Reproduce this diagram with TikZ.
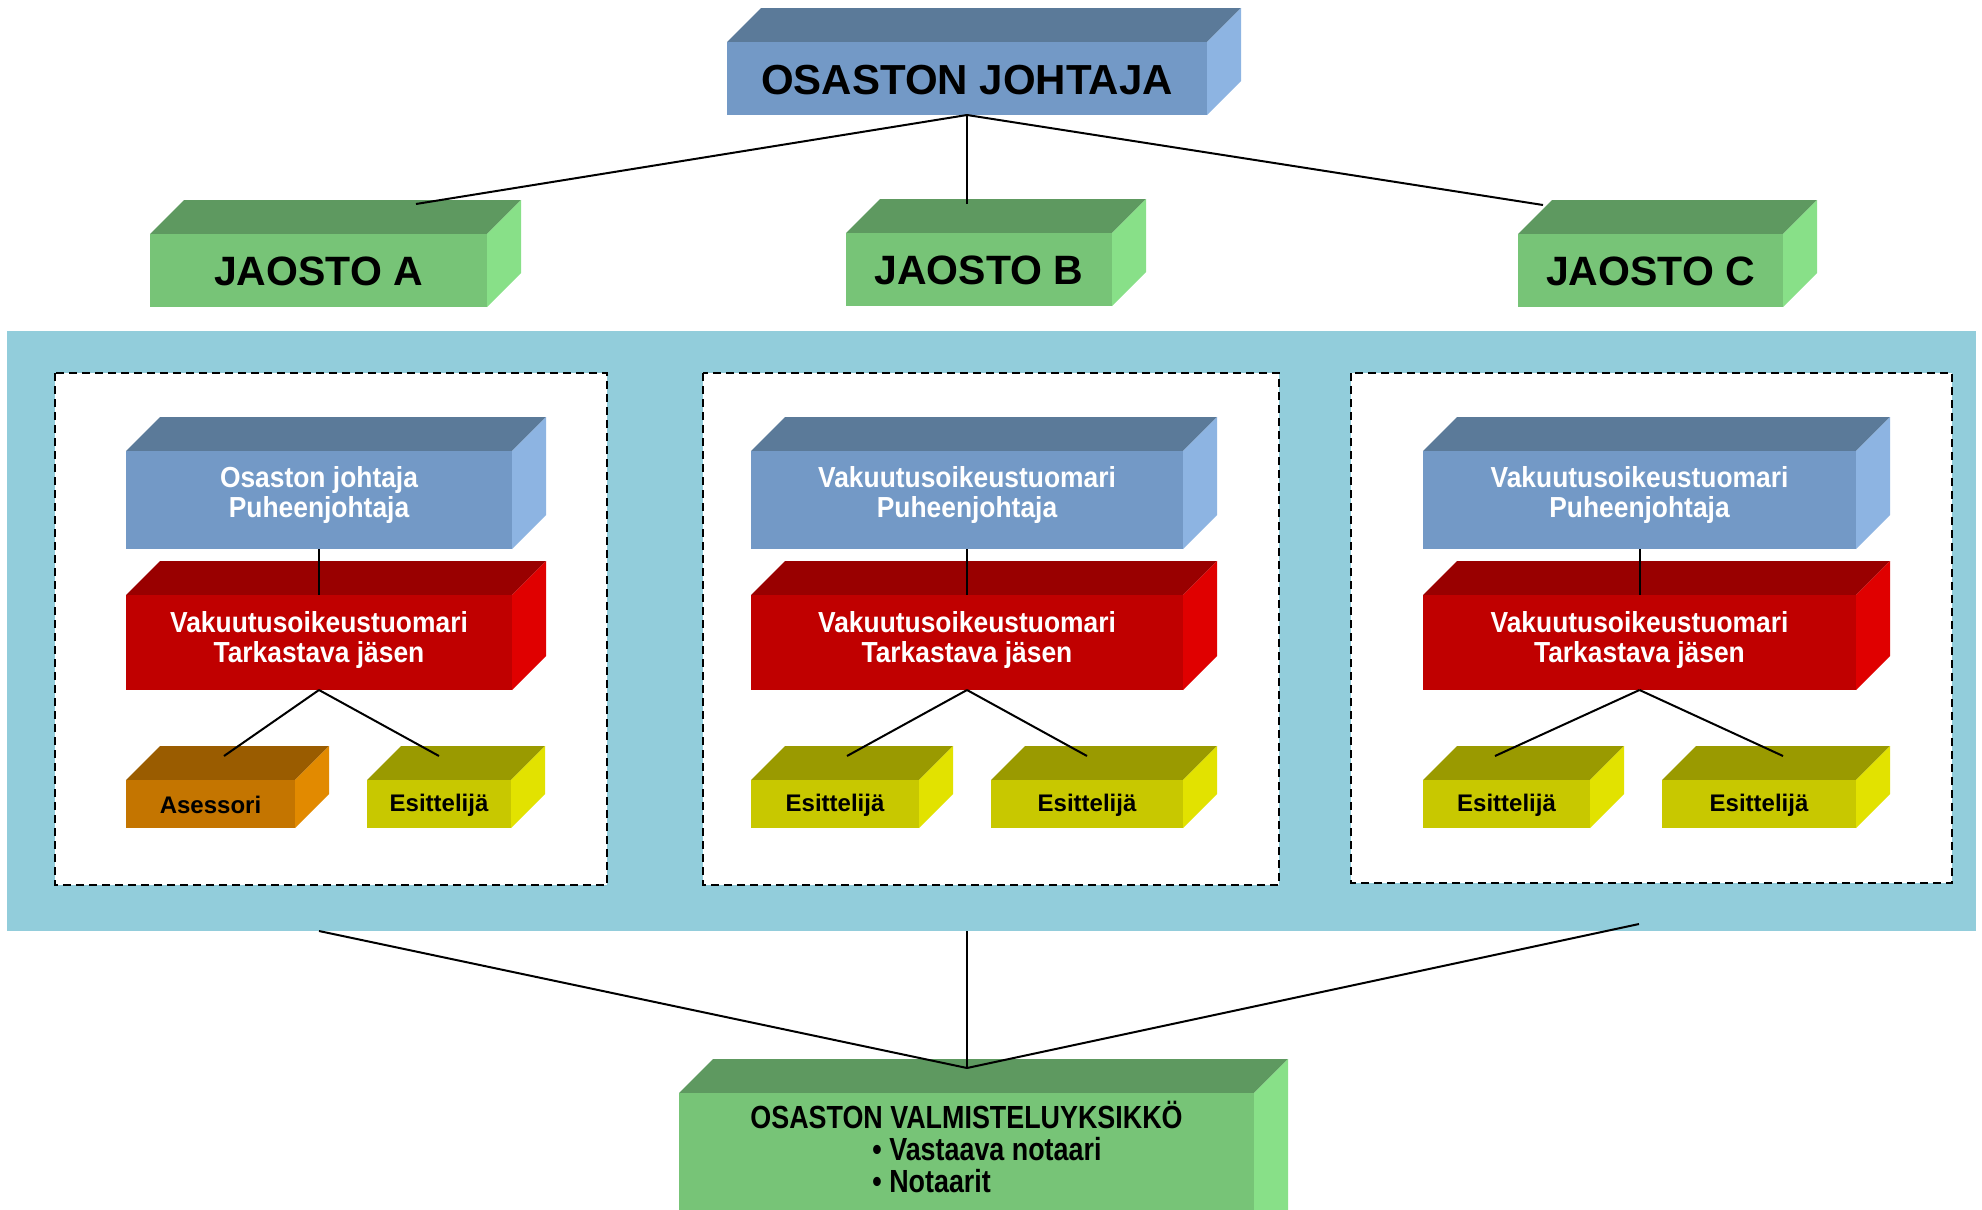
\documentclass[tikz,border=0pt]{standalone}
\usepackage{fontspec}
\setmainfont{Liberation Sans}
\newfontfamily\condA[FakeStretch=0.91]{Liberation Sans}
\newfontfamily\condB[FakeStretch=0.84]{Liberation Sans}
\definecolor{blufront}{HTML}{7399C6}
\definecolor{blutop}{HTML}{5B7A99}
\definecolor{bluside}{HTML}{8DB4E2}
\definecolor{grnfront}{HTML}{77C477}
\definecolor{grntop}{HTML}{5E9960}
\definecolor{grnside}{HTML}{88E088}
\definecolor{redfront}{HTML}{C00000}
\definecolor{redtop}{HTML}{990000}
\definecolor{redside}{HTML}{E00000}
\definecolor{orafront}{HTML}{C47500}
\definecolor{oratop}{HTML}{9A5C00}
\definecolor{oraside}{HTML}{E28A00}
\definecolor{yelfront}{HTML}{C8C800}
\definecolor{yeltop}{HTML}{9A9A00}
\definecolor{yelside}{HTML}{E2E200}
\definecolor{panelc}{HTML}{92CDDB}
\newcommand\cubo[9]{%
  \fill[#6top] (#2,#3) -- ({#2+34},{#3-34}) -- ({#4+34},{#3-34}) -- (#4,#3) -- cycle;
  \fill[#6side] (#4,#3) -- ({#4+34},{#3-34}) -- ({#4+34},{#5-34}) -- (#4,#5) -- cycle;
  \node[fill=#6front, inner sep=0pt, outer sep=0pt, minimum width={(#4-#2)*0.5pt}, minimum height={(#5-#3)*0.5pt}] (#1) at ({(#2+#4)/2},{(#3+#5)/2}) {};
  \node[#7] (#1-t) at ({(#2+#4)/2},{(#3+#5)/2+#9}) {#8};
}
\tikzset{
  bigtxt/.style={font=\bfseries\fontsize{21}{25}\selectfont},
  jaotxt/.style={font=\bfseries\fontsize{20.5}{24}\selectfont},
  midtxt/.style={font=\condA\bfseries\fontsize{14.5}{15}\selectfont, text=white, align=center, inner sep=0pt},
  smalltxt/.style={font=\bfseries\fontsize{12}{14}\selectfont, inner sep=0pt},
  valmtxt/.style={font=\condB\bfseries\fontsize{16}{16}\selectfont, align=left, inner sep=0pt},
  dashbox/.style={draw=black, fill=white, line width=1pt, dash pattern=on 4pt off 2.5pt},
  conn/.style={draw=black, line width=1pt}
}
\begin{document}
\begin{tikzpicture}[x=0.5pt, y=-0.5pt]
\useasboundingbox (0,0) rectangle (1982,1210);
\clip (0,0) rectangle (1982,1210);
% panel
\fill[panelc] (7,331) rectangle (1976,931);
\path[dashbox] (55,373) rectangle (607,885);
\path[dashbox] (703,373) rectangle (1279,885);
\path[dashbox] (1351,373) rectangle (1952,883);
% top levels
\cubo{top}{727}{42}{1207}{115}{blu}{bigtxt}{OSASTON JOHTAJA}{2}
\cubo{ja}{150}{234}{487}{307}{grn}{jaotxt}{JAOSTO A}{1}
\cubo{jb}{846}{233}{1112}{306}{grn}{jaotxt}{JAOSTO B}{1}
\cubo{jc}{1518}{234}{1783}{307}{grn}{jaotxt}{JAOSTO C}{1}
% column A
\cubo{blueA}{126}{451}{512}{549}{blu}{midtxt}{Osaston johtaja\\Puheenjohtaja}{-5}
\cubo{redA}{126}{595}{512}{690}{red}{midtxt}{Vakuutusoikeustuomari\\Tarkastava jäsen}{-3}
\cubo{asA}{126}{780}{295}{828}{ora}{smalltxt}{Asessori}{1}
\cubo{esA}{367}{780}{511}{828}{yel}{smalltxt}{Esittelijä}{1}
% column B
\cubo{blueB}{751}{451}{1183}{549}{blu}{midtxt}{Vakuutusoikeustuomari\\Puheenjohtaja}{-5}
\cubo{redB}{751}{595}{1183}{690}{red}{midtxt}{Vakuutusoikeustuomari\\Tarkastava jäsen}{-3}
\cubo{esB1}{751}{780}{919}{828}{yel}{smalltxt}{Esittelijä}{1}
\cubo{esB2}{991}{780}{1183}{828}{yel}{smalltxt}{Esittelijä}{1}
% column C
\cubo{blueC}{1423}{451}{1856}{549}{blu}{midtxt}{Vakuutusoikeustuomari\\Puheenjohtaja}{-5}
\cubo{redC}{1423}{595}{1856}{690}{red}{midtxt}{Vakuutusoikeustuomari\\Tarkastava jäsen}{-3}
\cubo{esC1}{1423}{780}{1590}{828}{yel}{smalltxt}{Esittelijä}{1}
\cubo{esC2}{1662}{780}{1856}{828}{yel}{smalltxt}{Esittelijä}{1}
% bottom
\cubo{valm}{679}{1093}{1254}{1280}{grn}{valmtxt}{OSASTON VALMISTELUYKSIKKÖ\\\hspace*{61pt}• Vastaava notaari\\\hspace*{61pt}• Notaarit}{-40}
% connector end points
\coordinate (jaTop) at (416,204);
\coordinate (jbTop) at (967,204);
\coordinate (jcTop) at (1543,205);
\coordinate (asTop) at (224,756);
\coordinate (esATop) at (439,756);
\coordinate (esB1Top) at (847,756);
\coordinate (esB2Top) at (1087,756);
\coordinate (esC1Top) at (1495,756);
\coordinate (esC2Top) at (1783,756);
\coordinate (panA) at (319,931);
\coordinate (panB) at (967,931);
\coordinate (panC) at (1639,924);
\coordinate (valmTop) at (967,1068);
% connectors
\draw[conn] (top.south) -- (jaTop);
\draw[conn] (top.south) -- (jbTop);
\draw[conn] (top.south) -- (jcTop);
\draw[conn] (blueA.south) -- (redA.north);
\draw[conn] (blueB.south) -- (redB.north);
\draw[conn] (blueC.south) -- (redC.north);
\draw[conn] (redA.south) -- (asTop);
\draw[conn] (redA.south) -- (esATop);
\draw[conn] (redB.south) -- (esB1Top);
\draw[conn] (redB.south) -- (esB2Top);
\draw[conn] (redC.south) -- (esC1Top);
\draw[conn] (redC.south) -- (esC2Top);
\draw[conn] (panA) -- (valmTop);
\draw[conn] (panB) -- (valmTop);
\draw[conn] (panC) -- (valmTop);
\end{tikzpicture}
\end{document}
